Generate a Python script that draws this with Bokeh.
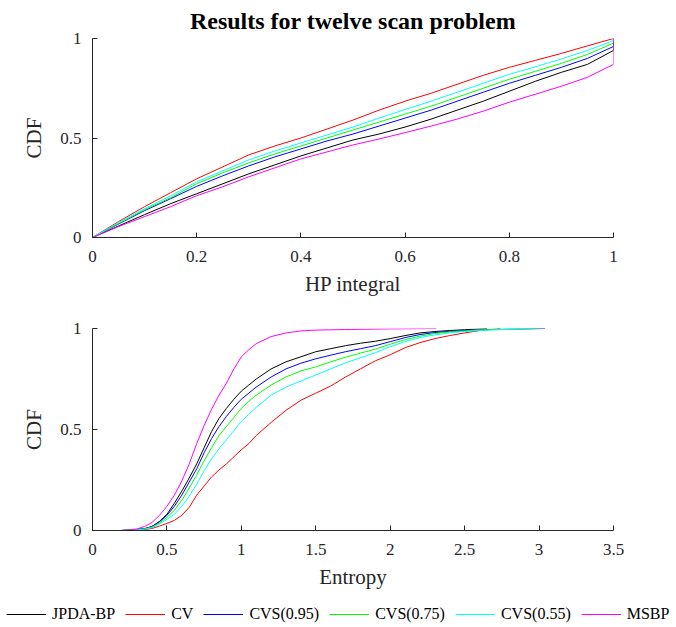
from bokeh.plotting import figure
from bokeh.models import Range1d, FixedTicker, Legend, LegendItem
from bokeh.layouts import column
from bokeh.embed import file_html
from bokeh.resources import INLINE

# ---------------- data ----------------
series_names = ["JPDA-BP", "CV", "CVS(0.95)", "CVS(0.75)", "CVS(0.55)", "MSBP"]
series_colors = ["#000000", "#ff0000", "#0000ff", "#00ff00", "#00ffff", "#ff00ff"]

# top panel: CDF of HP integral
hp_x = [0, .05, .1, .15, .2, .25, .3, .35, .4, .45, .5, .55, .6, .65, .7, .75, .8, .85, .9, .95, 1.0, 1.0]
hp_jpda = [0, .058, .115, .17, .22, .27, .32, .365, .41, .45, .49, .52, .555, .595, .64, .685, .735, .785, .83, .87, .94, 1.0]
hp_cv = [0, .08, .155, .225, .295, .355, .415, .46, .50, .545, .59, .64, .685, .725, .77, .815, .855, .89, .925, .963, 1.0, 1.0]
hp_cvs95 = [0, .068, .135, .195, .257, .31, .36, .405, .445, .485, .52, .56, .60, .64, .685, .73, .775, .815, .855, .90, .96, 1.0]
hp_cvs75 = [0, .07, .14, .20, .27, .325, .375, .42, .46, .50, .54, .58, .62, .66, .705, .75, .795, .835, .875, .92, .977, 1.0]
hp_cvs55 = [0, .075, .145, .21, .28, .335, .39, .435, .475, .515, .555, .60, .643, .685, .73, .775, .82, .858, .897, .94, .99, 1.0]
hp_msbp = [0, .055, .105, .155, .21, .255, .305, .35, .395, .43, .465, .495, .527, .56, .595, .635, .68, .72, .76, .805, .87, 1.0]

# bottom panel: CDF of entropy
ent_grid = [0.19, 0.25, 0.3, 0.35, 0.4, 0.45, 0.5, 0.55, 0.6, 0.65, 0.7, 0.75, 0.8, 0.85, 0.9, 0.95,
            1.0, 1.05, 1.1, 1.2, 1.3, 1.4, 1.5, 1.6, 1.7, 1.8, 1.9, 2.0, 2.1, 2.2, 2.3, 2.4, 2.5, 2.6]
ent_jpda_x = ent_grid[:33] + [2.65]
ent_jpda = [0, .002, .005, .009, .02, .045, .08, .135, .195, .26, .33, .41, .49, .555, .605, .65,
            .69, .72, .75, .80, .835, .86, .885, .90, .915, .927, .937, .95, .965, .978, .985, .99, .994, 1.0]
ent_cv_x = ent_grid + [2.74]
ent_cv = [0, .001, .002, .005, .01, .022, .035, .05, .075, .115, .175, .22, .265, .30, .33, .365,
          .40, .43, .47, .535, .595, .645, .68, .715, .76, .80, .84, .87, .905, .93, .95, .965, .978, .99, 1.0]
ent_cvs95_x = ent_grid + [2.8, 3.04]
ent_cvs95 = [0, .002, .005, .009, .02, .043, .075, .12, .175, .24, .305, .385, .455, .515, .565, .61,
             .65, .68, .71, .76, .80, .828, .85, .868, .885, .90, .915, .935, .955, .97, .98, .986, .99, .994, .997, 1.0]
ent_cvs75_x = ent_grid + [2.8, 3.0]
ent_cvs75 = [0, .002, .004, .008, .017, .037, .065, .10, .15, .21, .275, .345, .41, .47, .515, .56,
             .605, .64, .67, .72, .76, .79, .81, .835, .858, .878, .898, .922, .945, .962, .975, .983, .988, .993, .997, 1.0]
ent_cvs55_x = ent_grid + [2.8, 2.97]
ent_cvs55 = [0, .001, .003, .007, .014, .032, .055, .08, .12, .17, .23, .295, .355, .405, .45, .495,
             .54, .575, .61, .67, .71, .74, .77, .80, .83, .855, .88, .91, .935, .955, .968, .978, .985, .99, .996, 1.0]
ent_msbp_x = [0.19, 0.25, 0.3, 0.35, 0.4, 0.45, 0.5, 0.55, 0.6, 0.65, 0.7, 0.75, 0.8, 0.85, 0.9, 0.95,
              1.0, 1.05, 1.1, 1.2, 1.3, 1.4, 1.5, 1.7, 2.0, 2.31]
ent_msbp = [0, .003, .008, .02, .04, .075, .12, .175, .245, .33, .43, .52, .60, .67, .73, .80,
            .86, .895, .925, .96, .978, .988, .992, .995, .998, 1.0]

top_x_ticks = [0, 0.2, 0.4, 0.6, 0.8, 1]
top_x_labels = ["0", "0.2", "0.4", "0.6", "0.8", "1"]
bot_x_ticks = [0, 0.5, 1, 1.5, 2, 2.5, 3, 3.5]
bot_x_labels = ["0", "0.5", "1", "1.5", "2", "2.5", "3", "3.5"]
y_ticks = [0, 0.5, 1]
y_labels = ["0", "0.5", "1"]

title_text = "Results for twelve scan problem"
top_xlabel = "HP integral"
bot_xlabel = "Entropy"
ylabel = "CDF"

# ---------------- styling ----------------
SERIF = "Liberation Serif"
AXC = "#262626"


def style(p, xticks, xlabels, xlab):
    p.xgrid.visible = False
    p.ygrid.visible = False
    p.outline_line_color = None
    for ax, ticks, labels, lab, tso, lso in ((p.xaxis[0], xticks, xlabels, xlab, 13, 7),
                                             (p.yaxis[0], y_ticks, y_labels, ylabel, 11, 11)):
        ax.ticker = FixedTicker(ticks=ticks)
        ax.major_label_overrides = {t: l for t, l in zip(ticks, labels)}
        ax.major_tick_in = 5
        ax.major_tick_out = 0
        ax.minor_tick_line_color = None
        ax.axis_line_color = AXC
        ax.major_tick_line_color = AXC
        ax.major_label_text_font = SERIF
        ax.major_label_text_font_size = "17px"
        ax.major_label_text_color = AXC
        ax.major_label_standoff = tso
        ax.axis_label = lab
        ax.axis_label_text_font = SERIF
        ax.axis_label_text_font_size = "21px"
        ax.axis_label_text_font_style = "normal"
        ax.axis_label_text_color = AXC
        ax.axis_label_standoff = lso


W = 676
p1 = figure(width=W, height=300, output_backend="svg", toolbar_location=None,
            x_range=Range1d(0, 1), y_range=Range1d(0, 1),
            min_border_left=92, min_border_right=63, min_border_top=37, min_border_bottom=63)
p1.title.text = title_text
p1.title.align = "center"
p1.title.text_font = SERIF
p1.title.text_font_size = "24px"
p1.title.text_font_style = "bold"
p1.title.text_color = "#000000"
p1.title.standoff = 10
style(p1, top_x_ticks, top_x_labels, top_xlabel)

hp_series = [hp_jpda, hp_cv, hp_cvs95, hp_cvs75, hp_cvs55, hp_msbp]
for ys, c in zip(hp_series, series_colors):
    p1.line(hp_x, ys, line_color=c, line_width=1)

p2 = figure(width=W, height=300, output_backend="svg", toolbar_location=None,
            x_range=Range1d(0, 3.5), y_range=Range1d(0, 1),
            min_border_left=92, min_border_right=63, min_border_top=28, min_border_bottom=70)
style(p2, bot_x_ticks, bot_x_labels, bot_xlabel)

ent_series = [(ent_jpda_x, ent_jpda), (ent_cv_x, ent_cv), (ent_cvs95_x, ent_cvs95),
              (ent_cvs75_x, ent_cvs75), (ent_cvs55_x, ent_cvs55), (ent_msbp_x, ent_msbp)]
for (xs, ys), c in zip(ent_series, series_colors):
    p2.line(xs, ys, line_color=c, line_width=1)

# legend strip: same series, drawn in a strip whose ranges keep the lines out of view
p3 = figure(width=W, height=27, output_backend="svg", toolbar_location=None,
            x_axis_type=None, y_axis_type=None,
            x_range=Range1d(-2, -1), y_range=Range1d(-2, -1), min_border=0)
p3.outline_line_color = None
p3.grid.visible = False
if "frame_align" in p3.properties():
    p3.frame_align = False
items = []
for (xs, ys), c, name in zip(ent_series, series_colors, series_names):
    r = p3.line(xs, ys, line_color=c, line_width=1)
    items.append(LegendItem(label=name, renderers=[r]))

legend = Legend(items=items, orientation="horizontal", location=(6, 4))
legend.border_line_color = None
legend.background_fill_alpha = 0
legend.padding = 0
legend.margin = 0
legend.glyph_width = 40
legend.glyph_height = 16
legend.label_standoff = 6
legend.spacing = 10
legend.label_text_font = SERIF
legend.label_text_font_size = "16px"
legend.label_text_color = "#000000"
p3.add_layout(legend)

layout = column(p1, p2, p3, spacing=0)
open("out.html", "w").write(file_html(layout, INLINE))
